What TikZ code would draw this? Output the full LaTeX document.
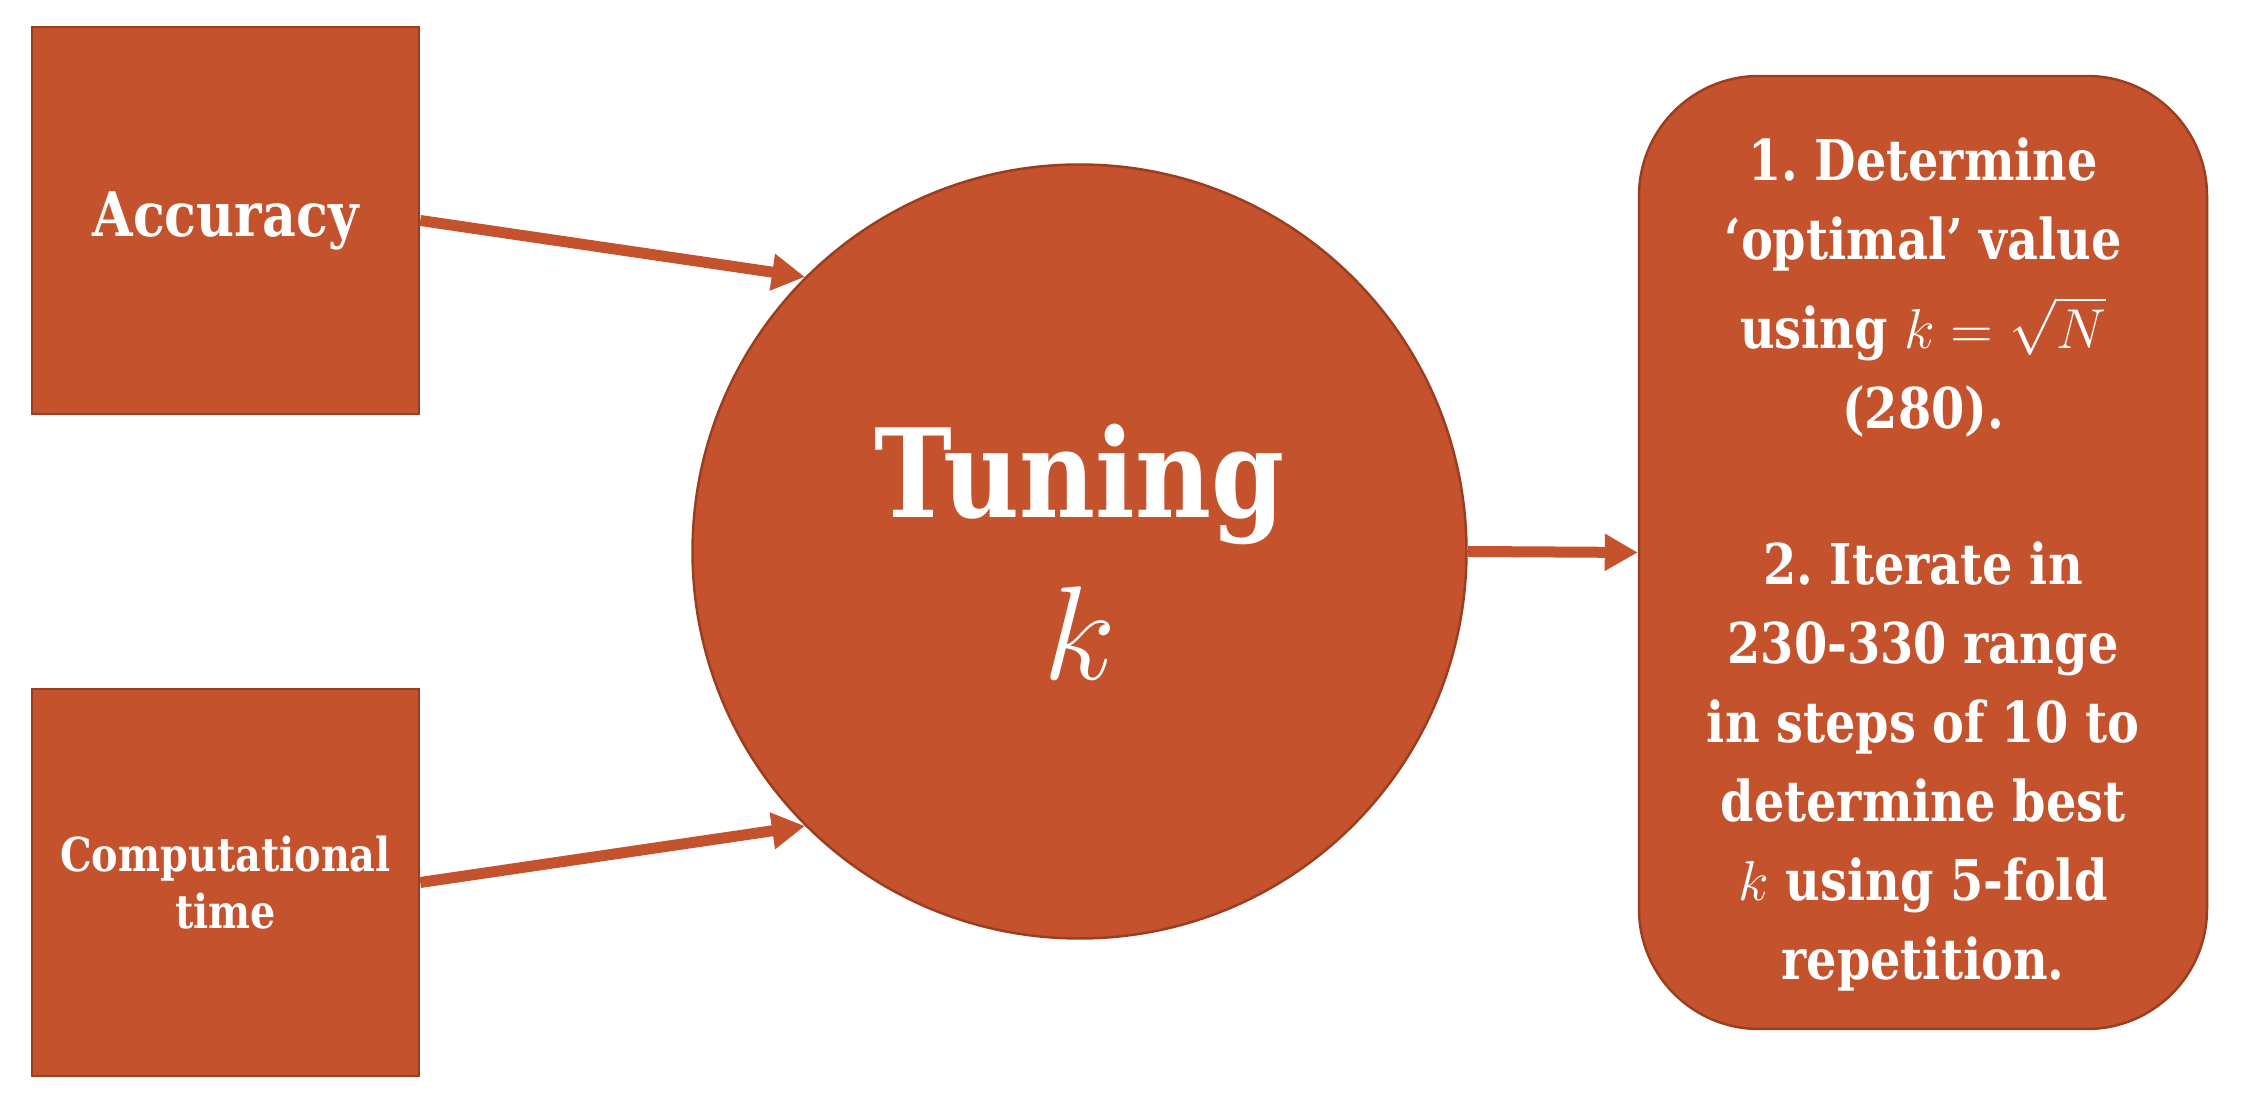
\RequirePackage{fix-cm}
\documentclass[tikz,border=0pt]{standalone}
\usepackage{amsmath}
\usepackage{fontspec}
\setmainfont{DejaVu Serif}[FakeStretch=0.85]
\usetikzlibrary{arrows.meta}
\definecolor{rust}{HTML}{C4522C}
\definecolor{rustdark}{HTML}{9C3D20}
\frenchspacing
\tikzset{
    every node/.style={fill=rust, draw=rustdark, line width=0.7pt, text=white,
    	align=center, inner sep=0pt}
}
\tikzset{
    every edge/.append style={draw=rust, line width=0.11cm,
    	-{Triangle[length=0.33cm, width=0.35cm]}}
}
\tikzset{
    factorbox/.style={rectangle, minimum size=3.87cm},
    tunecircle/.style={circle, minimum size=7.74cm,
    	font=\fontsize{35}{46}\selectfont\bfseries},
    iterbox/.style={rectangle, rounded corners=1.2cm, minimum width=5.68cm,
    	minimum height=9.53cm, font=\fontsize{16}{22.5}\selectfont\bfseries}
}

\begin{document}
\begin{tikzpicture}
  \useasboundingbox (0cm, 0cm) rectangle (22.46cm, 11.06cm);

  \node (acc) [factorbox, font=\fontsize{17.5}{23}\selectfont\bfseries] at (2.255cm, 8.855cm) {Accuracy};
  \node (comp) [factorbox, font=\fontsize{13.3}{16.2}\selectfont\bfseries] at (2.255cm, 2.235cm) {Computational\\time};
  \node (tune) [tunecircle] at (10.795cm, 5.545cm) {Tuning\\{\fontsize{38}{46}\selectfont$k$}};
  \node (iter) [iterbox] at (19.23cm, 5.535cm) {\rule{0pt}{19pt}1. Determine\\
    ‘optimal’ value\\[3pt]
    using $k=\sqrt{N}$\\
    (280).\\[22pt]
    2. Iterate in\\
    230-330 range\\
    in steps of 10 to\\
    determine best\\
    $k$ using 5-fold\\
    repetition.};

  \draw (acc.east) edge (tune.135);
  \draw (comp.east) edge (tune.225);
  \draw (tune.east) edge (iter.west);
\end{tikzpicture}
\end{document}
